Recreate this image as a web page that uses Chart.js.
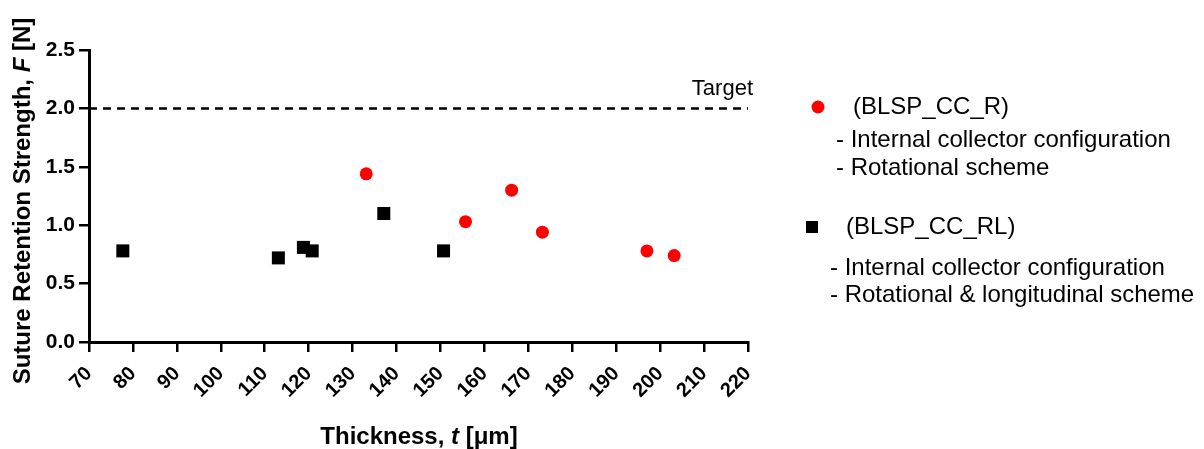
<!DOCTYPE html>
<html>
<head>
<meta charset="utf-8">
<script src="https://cdn.jsdelivr.net/npm/chart.js@4.4.1/dist/chart.umd.min.js"></script>
<style>
  html, body { margin: 0; padding: 0; background: #fff; }
  #wrap { width: 1204px; height: 449px; }
</style>
</head>
<body>
<div id="wrap"><canvas id="chart" width="1204" height="449"></canvas></div>
<script>
// data
const thicknessR = [133.1, 155.7, 166.2, 173.2, 197.0, 203.2];
const strengthR = [1.44, 1.03, 1.30, 0.94, 0.78, 0.74];
const thicknessRL = [77.7, 113.1, 118.8, 120.8, 137.1, 150.7];
const strengthRL = [0.78, 0.72, 0.81, 0.78, 1.10, 0.78];
const targetSpan = [70, 220];
const targetValue = 2.0;

const xMin = 70, xMax = 220, xStep = 10;
const yMin = 0, yMax = 2.5, yStep = 0.5;

const legendGroups = [
    { name: "(BLSP_CC_R)", lines: ["- Internal collector configuration", "- Rotational scheme"] },
    { name: "(BLSP_CC_RL)", lines: ["- Internal collector configuration", "- Rotational & longitudinal scheme"] },
];

const FONT = "'Liberation Sans', Arial, sans-serif";

const toPoints = (xs, ys) => xs.map((x, i) => ({ x: x, y: ys[i] }));

// draws a run of text pieces, some italic, starting at x
const drawRuns = (ctx, runs, x, y) => {
    let cx = x;
    runs.forEach(r => {
        ctx.font = r.font;
        ctx.fillText(r.text, cx, y);
        cx += ctx.measureText(r.text).width;
    });
};
const runsWidth = (ctx, runs) => {
    let w = 0;
    runs.forEach(r => { ctx.font = r.font; w += ctx.measureText(r.text).width; });
    return w;
};

const annotations = {
    id: "annotations",
    afterDraw(chart) {
        const ctx = chart.ctx;
        const area = chart.chartArea;
        const ys = chart.scales.y;
        ctx.save();
        ctx.fillStyle = "#000";
        ctx.textBaseline = "middle";

        // target label
        ctx.font = "22px " + FONT;
        ctx.textAlign = "right";
        ctx.fillText("Target", area.right + 5, ys.getPixelForValue(targetValue) - 19);

        // axis titles
        ctx.textAlign = "left";
        const b = "bold 24px " + FONT;
        const bi = "italic bold 24px " + FONT;
        const xRuns = [{ text: "Thickness, ", font: b }, { text: "t", font: bi }, { text: " [\u03bcm]", font: b }];
        const xw = runsWidth(ctx, xRuns);
        drawRuns(ctx, xRuns, 419 - xw / 2, 437);

        const yRuns = [{ text: "Suture Retention Strength, ", font: b }, { text: "F", font: bi }, { text: " [N]", font: b }];
        const yw = runsWidth(ctx, yRuns);
        ctx.save();
        ctx.translate(23, 201);
        ctx.rotate(-Math.PI / 2);
        drawRuns(ctx, yRuns, -yw / 2, 0);
        ctx.restore();

        // legend
        const ds = chart.data.datasets;
        ctx.font = "24px " + FONT;
        // group 1
        ctx.fillStyle = ds[0].backgroundColor;
        ctx.beginPath();
        ctx.arc(818, 107, 6.5, 0, Math.PI * 2);
        ctx.fill();
        ctx.fillStyle = "#000";
        ctx.fillText(legendGroups[0].name, 853, 107);
        ctx.fillText(legendGroups[0].lines[0], 836, 140);
        ctx.fillText(legendGroups[0].lines[1], 836, 168);
        // group 2
        ctx.fillStyle = ds[1].backgroundColor;
        ctx.fillRect(806, 221, 12, 12);
        ctx.fillStyle = "#000";
        ctx.fillText(legendGroups[1].name, 846, 227);
        ctx.fillText(legendGroups[1].lines[0], 830, 268);
        ctx.fillText(legendGroups[1].lines[1], 830, 295);
        ctx.restore();
    }
};

const chart = new Chart(document.getElementById("chart"), {
    type: "scatter",
    data: {
        datasets: [
            {
                label: "BLSP_CC_R",
                data: toPoints(thicknessR, strengthR),
                backgroundColor: "#ff0000",
                borderWidth: 0,
                pointStyle: "circle",
                pointRadius: 6.5,
            },
            {
                label: "BLSP_CC_RL",
                data: toPoints(thicknessRL, strengthRL),
                backgroundColor: "#000000",
                borderWidth: 0,
                pointStyle: "rect",
                pointRadius: 9.2,
            },
            {
                type: "line",
                label: "Target",
                data: targetSpan.map(x => ({ x: x, y: targetValue })),
                borderColor: "#000",
                borderWidth: 2.5,
                borderDash: [8, 6],
                pointRadius: 0,
                fill: false,
            },
        ],
    },
    options: {
        responsive: false,
        animation: false,
        devicePixelRatio: 1,
        layout: { padding: { left: 0, right: 456, top: 50, bottom: 0 } },
        plugins: {
            legend: { display: false },
            tooltip: { enabled: false },
        },
        scales: {
            x: {
                type: "linear",
                min: xMin,
                max: xMax,
                afterFit: (s) => { s.height = 107; },
                border: { display: true, color: "#000", width: 3 },
                grid: { display: true, drawOnChartArea: false, drawTicks: true, tickLength: 10, color: "#000", lineWidth: 2.5 },
                ticks: {
                    stepSize: xStep,
                    minRotation: 45,
                    maxRotation: 45,
                    padding: 10,
                    color: "#000",
                    font: { family: FONT, size: 20, weight: "bold" },
                },
            },
            y: {
                min: yMin,
                max: yMax,
                afterFit: (s) => { s.width = 89; },
                border: { display: true, color: "#000", width: 3 },
                grid: { display: true, drawOnChartArea: false, drawTicks: true, tickLength: 10, color: "#000", lineWidth: 2.5 },
                ticks: {
                    stepSize: yStep,
                    padding: 4,
                    color: "#000",
                    font: { family: FONT, size: 21, weight: "bold" },
                    callback: (v) => v.toFixed(1),
                },
            },
        },
    },
    plugins: [annotations],
});
</script>
</body>
</html>
